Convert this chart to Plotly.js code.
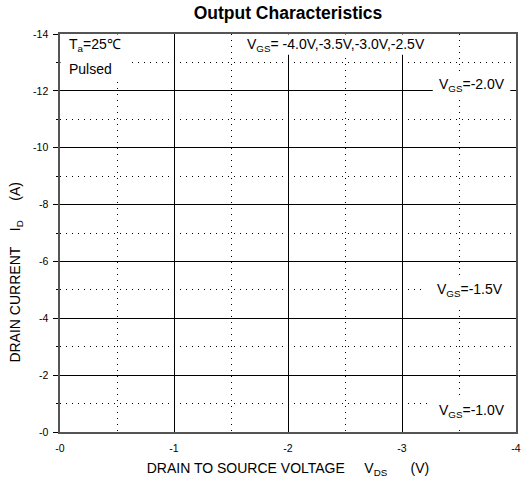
<!DOCTYPE html>
<html>
<head>
<meta charset="utf-8">
<script src="https://cdn.plot.ly/plotly-3.0.1.min.js"></script>
<style>html,body{margin:0;padding:0;background:#fff;}</style>
</head>
<body>
<div id="chart" style="width:521px;height:481px;"></div>
<script>
// Axis ticks
var vdsTickVals = [0, -1, -2, -3, -4];
var vdsTickText = ["-0", "-1", "-2", "-3", "-4"];
var idTickVals = [0, -2, -4, -6, -8, -10, -12, -14];
var idTickText = ["-0", "-2", "-4", "-6", "-8", "-10", "-12", "-14"];
// Curve labels (no curves are drawn in the reference, only labels)
var vgsLabels = ["V<sub>GS</sub>= -4.0V,-3.5V,-3.0V,-2.5V", "V<sub>GS</sub>=-2.0V", "V<sub>GS</sub>=-1.5V", "V<sub>GS</sub>=-1.0V"];
var condLabels = ["T<sub>a</sub>=25\u2103", "Pulsed"];

var FONT = "Liberation Sans, Arial, sans-serif";

var traces = [{
  type: "scatter", mode: "lines", x: [], y: [], showlegend: false, hoverinfo: "skip"
}];

function box(x0, x1, y0, y1) {
  return {type: "rect", xref: "x", yref: "y", x0: x0, x1: x1, y0: y0, y1: y1,
          fillcolor: "#ffffff", line: {width: 0}, layer: "between"};
}
function lab(text, x, y, xanchor) {
  return {text: text, x: x, y: y, xref: "x", yref: "y", showarrow: false,
          xanchor: xanchor || "center", yanchor: "middle",
          font: {family: FONT, size: 14, color: "#000"}};
}

var layout = {
  width: 521, height: 481,
  margin: {l: 60, r: 5, t: 34, b: 49, pad: 0},
  paper_bgcolor: "#fff", plot_bgcolor: "#fff",
  showlegend: false,
  title: {text: "<b>Output Characteristics</b>", xref: "paper", x: 0.5, xanchor: "center", y: 0.973, yanchor: "middle",
          font: {family: FONT, size: 17.5, color: "#000"}},
  xaxis: {
    range: [0, -4], autorange: false,
    tickvals: vdsTickVals, ticktext: vdsTickText,
    tickfont: {family: FONT, size: 10.5, color: "#000"},
    ticks: "", ticklabelstandoff: 6,
    showgrid: true, gridcolor: "#000", gridwidth: 1,
    minor: {dtick: 0.5, tick0: 0, showgrid: true, gridcolor: "#000", gridwidth: 1, griddash: "1px,5px", ticks: ""},
    showline: true, linecolor: "#555", linewidth: 1.6, mirror: true,
    zeroline: false,
    title: {text: "DRAIN TO SOURCE VOLTAGE&nbsp;&nbsp;&nbsp;&nbsp;&nbsp;V<sub>DS</sub>&nbsp;&nbsp;&nbsp;&nbsp;&nbsp;&nbsp;(V)",
            font: {family: FONT, size: 14, color: "#000"}, standoff: 10}
  },
  yaxis: {
    range: [0, -14], autorange: false,
    tickvals: idTickVals, ticktext: idTickText,
    tickfont: {family: FONT, size: 10.5, color: "#000"},
    ticks: "outside", ticklen: 5, tickcolor: "#000", ticklabelstandoff: 3,
    showgrid: true, gridcolor: "#000", gridwidth: 1,
    minor: {dtick: 1, tick0: 0, showgrid: true, gridcolor: "#000", gridwidth: 1, griddash: "1px,5px",
            ticks: "outside", ticklen: 2, tickcolor: "#000"},
    showline: true, linecolor: "#555", linewidth: 1.6, mirror: true,
    zeroline: false
  },
  shapes: [
    box(-0.005, -0.62, -13.98, -12.39),
    box(-1.58, -3.25, -13.98, -13.27),
    box(-3.27, -3.95, -12.68, -11.80),
    box(-3.18, -3.96, -5.46, -4.40),
    box(-3.26, -3.96, -1.24, -0.25)
  ],
  annotations: [
    lab(condLabels[0], -0.06, -13.63, "left"),
    lab(condLabels[1], -0.06, -12.78, "left"),
    lab(vgsLabels[0], -2.42, -13.63),
    lab(vgsLabels[1], -3.61, -12.22),
    lab(vgsLabels[2], -3.60, -5.0),
    lab(vgsLabels[3], -3.61, -0.74),
    {text: "DRAIN CURRENT&nbsp;&nbsp;&nbsp;&nbsp;I<sub>D</sub>&nbsp;&nbsp;&nbsp;&nbsp;&nbsp;(A)", textangle: -90,
     xref: "paper", yref: "paper", x: -0.0965, y: 0.403, xanchor: "center", yanchor: "middle",
     showarrow: false, font: {family: FONT, size: 14, color: "#000"}}
  ]
};

Plotly.newPlot("chart", traces, layout, {staticPlot: true, displayModeBar: false});
</script>
</body>
</html>
